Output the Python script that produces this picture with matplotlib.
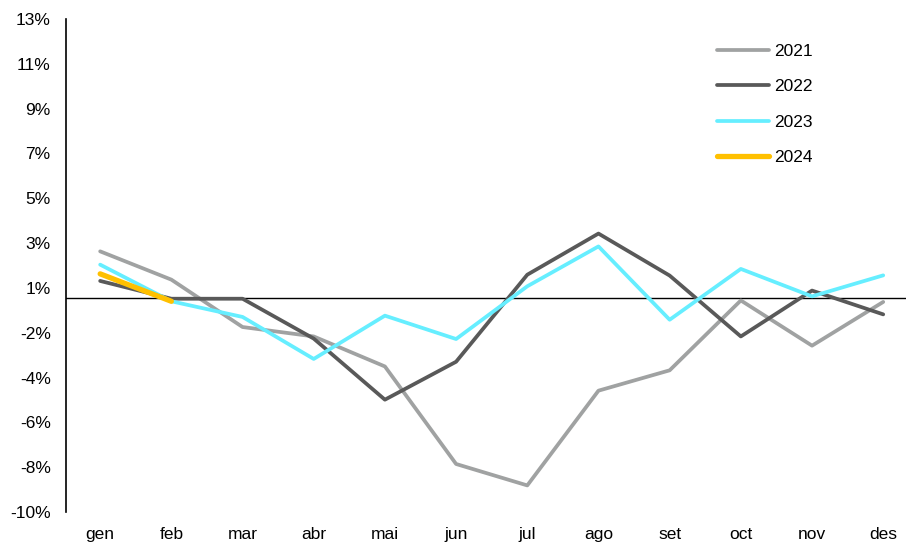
import matplotlib
matplotlib.use("Agg")
import matplotlib.pyplot as plt
import numpy as np

months = ["gen", "feb", "mar", "abr", "mai", "jun", "jul", "ago", "set", "oct", "nov", "des"]
y2021 = [2.16, 0.84, -1.37, -1.81, -3.21, -7.76, -8.76, -4.34, -3.39, -0.13, -2.24, -0.20]
y2022 = [0.78, -0.05, -0.05, -1.91, -4.76, -2.99, 1.07, 2.99, 1.03, -1.81, 0.33, -0.78]
y2023 = [1.54, -0.17, -0.90, -2.86, -0.84, -1.93, 0.53, 2.39, -1.03, 1.34, 0.06, 1.04]
y2024 = [1.11, -0.17]
ytick_labels = ["-10%", "-8%", "-6%", "-4%", "-2%", "1%", "3%", "5%", "7%", "9%", "11%", "13%"]
ymin, ymax = -10, 13

plt.rcParams["font.family"] = ["Liberation Sans", "DejaVu Sans"]

fig = plt.figure(figsize=(9.06, 5.42), dpi=100)
ax = fig.add_axes([66/906, 1-512/542, 1-66/906, (512-19)/542])

x = np.arange(len(months))
ax.plot(x, y2021, color="#A0A2A2", lw=2.7, label="2021", solid_capstyle="round")
ax.plot(x, y2022, color="#595959", lw=2.7, label="2022", solid_capstyle="round")
ax.plot(x, y2023, color="#66EEFF", lw=2.7, label="2023", solid_capstyle="round")
ax.plot(x[:len(y2024)], y2024, color="#FFC000", lw=3.8, label="2024", solid_capstyle="round")

ax.axhline(0, color="black", lw=1.0, zorder=1)

ax.set_xlim(-0.48, (906-100)/71.2)
ax.set_ylim(ymin, ymax)
yt = np.linspace(ymin, ymax, len(ytick_labels))
ax.set_yticks(yt)
ax.set_yticklabels(ytick_labels, fontsize=12.5)
ax.set_xticks(x)
ax.set_xticklabels(months, fontsize=12.5)
ax.tick_params(axis="both", length=0)
ax.tick_params(axis="x", pad=11)
ax.tick_params(axis="y", pad=11)

for s in ["top", "right", "bottom"]:
    ax.spines[s].set_visible(False)
ax.spines["left"].set_linewidth(1.2)
ax.spines["left"].set_color("black")

leg = ax.legend(loc="upper left", bbox_to_anchor=(701/906, 1-28/542), bbox_transform=fig.transFigure,
                frameon=False, fontsize=12.5, handlelength=3.0, handletextpad=0.3, labelspacing=1.17)

fig.savefig("out.png", dpi=100)
